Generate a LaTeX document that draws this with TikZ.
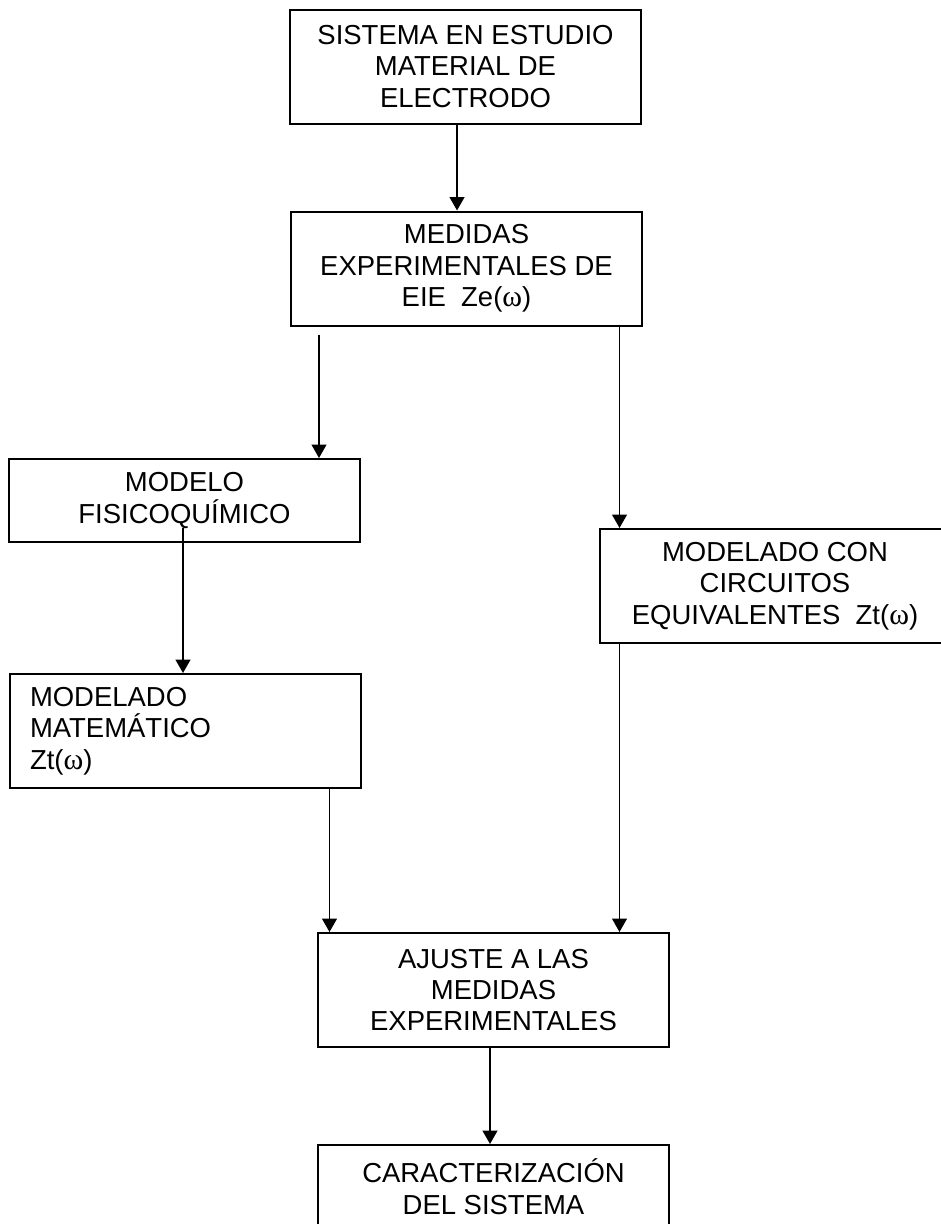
\documentclass[tikz,border=0pt]{standalone}
\usepackage{fontspec}
\setmainfont{Liberation Sans}
\newfontfamily\omegafont{Liberation Serif}
\usetikzlibrary{arrows.meta}
% Greek omega set in a serif face, as in the original document
\newcommand{\omg}{{\omegafont\fontsize{22.5pt}{23.6pt}\selectfont ω}}
\tikzset{
  stepbox/.style={draw, line width=1.5pt, rectangle, inner sep=0pt,
    align=center, minimum width=263.25pt,
    font=\fontsize{20.6pt}{23.6pt}\selectfont},
  tall/.style={minimum height=85.5pt},
  short/.style={minimum height=62.25pt},
  flow/.style={line width=1.4pt, -{Triangle[length=10pt,width=11pt]}}
}
\begin{document}
\begin{tikzpicture}[x=0.75pt, y=-0.75pt]
\useasboundingbox (0,0) rectangle (941,1224);
\clip (0,0) rectangle (941,1224);

% boxes
\node[stepbox, tall] (sistema) at (465.5,66.5)
  {SISTEMA EN ESTUDIO\\MATERIAL DE\\ELECTRODO};
\node[stepbox, tall] (medidas) at (466.5,268.5)
  {MEDIDAS\\EXPERIMENTALES DE\\EIE\ \ Ze(\omg)};
\node[stepbox, short] (fisico) at (184.5,500.5)
  {MODELO\\FISICOQUÍMICO};
\node[stepbox, tall] (circuitos) at (775,586)
  {MODELADO CON\\CIRCUITOS\\EQUIVALENTES\ \ Zt(\omg)};
\node[stepbox, tall, align=left, text width=232.5pt] (matematico) at (185,731)
  {MODELADO\\MATEMÁTICO\\Zt(\omg)};
\node[stepbox, tall] (ajuste) at (493.5,990)
  {AJUSTE A LAS\\MEDIDAS\\EXPERIMENTALES};
\node[stepbox, short] (caract) at (493.5,1186.5)
  {CARACTERIZACIÓN\\DEL SISTEMA};

% x positions of the vertical connectors
\coordinate (xa) at (457,0);
\coordinate (xb) at (319,0);
\coordinate (xc) at (619.5,0);
\coordinate (xd) at (183,0);
\coordinate (xe) at (329.5,0);
\coordinate (xf) at (490,0);

% connectors
\draw[flow] (sistema.south -| xa) -- (medidas.north -| xa);
\draw[flow, shorten <=6pt] (medidas.south -| xb) -- (fisico.north -| xb);
\draw[flow, shorten <=-1.5pt] (medidas.south -| xc) -- (circuitos.north -| xc);
\draw[flow, shorten <=-11.25pt] (fisico.south -| xd) -- (matematico.north -| xd);
\draw[flow] (matematico.south -| xe) -- (ajuste.north -| xe);
\draw[flow] (circuitos.south -| xc) -- (ajuste.north -| xc);
\draw[flow] (ajuste.south -| xf) -- (caract.north -| xf);
\end{tikzpicture}
\end{document}
